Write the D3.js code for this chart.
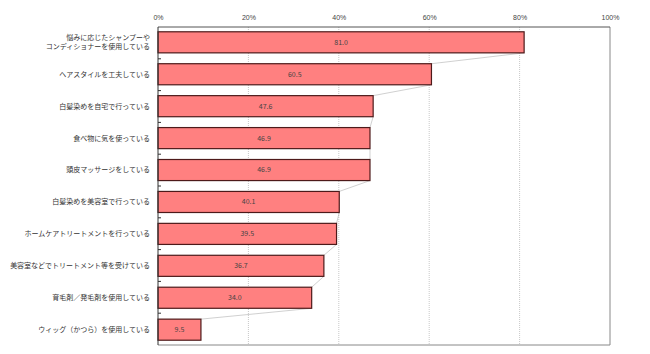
<!DOCTYPE html>
<html>
<head>
<meta charset="utf-8">
<script src="https://cdn.jsdelivr.net/npm/d3@7"></script>
<style>
  body { margin: 0; background: #fff; }
  svg { display: block; font-family: "Noto Sans CJK JP", sans-serif; }
</style>
</head>
<body>
<div id="chart"></div>
<script>
const categories = [
    ["悩みに応じたシャンプーや", "コンディショナーを使用している"],
    ["ヘアスタイルを工夫している"],
    ["白髪染めを自宅で行っている"],
    ["食べ物に気を使っている"],
    ["頭皮マッサージをしている"],
    ["白髪染めを美容室で行っている"],
    ["ホームケアトリートメントを行っている"],
    ["美容室などでトリートメント等を受けている"],
    ["育毛剤／発毛剤を使用している"],
    ["ウィッグ（かつら）を使用している"]
];
const values = [81.0, 60.5, 47.6, 46.9, 46.9, 40.1, 39.5, 36.7, 34.0, 9.5];
const tickValues = [0, 20, 40, 60, 80, 100];

const width = 650, height = 354;
const margin = { top: 27, right: 40, bottom: 9, left: 158 };

const svg = d3.select("#chart").append("svg")
    .attr("width", width)
    .attr("height", height);

const x = d3.scaleLinear()
    .domain([0, 100])
    .range([margin.left, width - margin.right]);

const y = d3.scaleBand()
    .domain(d3.range(values.length))
    .range([margin.top, height - margin.bottom])
    .paddingInner(0.34)
    .paddingOuter(0.15);

// grid lines
svg.selectAll(".grid")
    .data(tickValues.slice(1, -1))
    .enter()
    .append("line")
    .attr("x1", d => x(d))
    .attr("x2", d => x(d))
    .attr("y1", margin.top)
    .attr("y2", height - margin.bottom)
    .attr("stroke", "#c8c8c8")
    .attr("stroke-width", 1)
    .attr("stroke-dasharray", "1,1");

// frame
svg.append("line")
    .attr("x1", x(100)).attr("x2", x(100))
    .attr("y1", margin.top).attr("y2", height - margin.bottom)
    .attr("stroke", "#888");
svg.append("line")
    .attr("x1", x(0)).attr("x2", x(100))
    .attr("y1", height - margin.bottom).attr("y2", height - margin.bottom)
    .attr("stroke", "#888");
svg.append("line")
    .attr("x1", x(0)).attr("x2", x(100))
    .attr("y1", margin.top).attr("y2", margin.top)
    .attr("stroke", "#555");

// top axis
const xAxis = d3.axisTop(x)
    .tickValues(tickValues)
    .tickFormat(d => d + "%")
    .tickSize(0)
    .tickPadding(7);

svg.append("g")
    .attr("transform", `translate(0,${margin.top})`)
    .call(xAxis)
    .call(g => g.select(".domain").remove())
    .selectAll("text")
    .attr("font-size", 7)
    .attr("fill", "#444");

// series lines connecting bar ends
const links = values.slice(0, -1).map((v, i) => [v, values[i + 1], i]);
svg.selectAll(".series-line")
    .data(links)
    .enter()
    .append("line")
    .attr("x1", d => x(d[0]))
    .attr("y1", d => y(d[2]) + y.bandwidth())
    .attr("x2", d => x(d[1]))
    .attr("y2", d => y(d[2] + 1))
    .attr("stroke", "#b0b0b0")
    .attr("stroke-width", 0.6);

// bars
svg.selectAll(".bar")
    .data(values)
    .enter()
    .append("rect")
    .attr("x", x(0))
    .attr("y", (d, i) => y(i))
    .attr("width", d => x(d) - x(0))
    .attr("height", y.bandwidth())
    .attr("fill", "#ff8080")
    .attr("stroke", "#4d1a1a")
    .attr("stroke-width", 1.2);

// value labels
svg.selectAll(".value")
    .data(values)
    .enter()
    .append("text")
    .attr("x", d => (x(0) + x(d)) / 2)
    .attr("y", (d, i) => y(i) + y.bandwidth() / 2)
    .attr("dy", "0.35em")
    .attr("text-anchor", "middle")
    .attr("font-size", 7)
    .attr("fill", "#444")
    .text(d => d.toFixed(1));

// left axis line with ticks between bars
svg.append("line")
    .attr("x1", x(0)).attr("x2", x(0))
    .attr("y1", margin.top).attr("y2", height - margin.bottom)
    .attr("stroke", "#333");

const bandH = (height - margin.bottom - margin.top) / values.length;
svg.selectAll(".ltick")
    .data(d3.range(1, values.length))
    .enter()
    .append("line")
    .attr("x1", x(0))
    .attr("x2", x(0) + 3)
    .attr("y1", d => margin.top + d * bandH)
    .attr("y2", d => margin.top + d * bandH)
    .attr("stroke", "#333");

// category labels
const labels = svg.selectAll(".cat")
    .data(categories)
    .enter()
    .append("text")
    .attr("x", x(0) - 8)
    .attr("y", (d, i) => y(i) + y.bandwidth() / 2)
    .attr("text-anchor", "end")
    .attr("font-size", 7)
    .attr("fill", "#333");

labels.each(function(d) {
    const t = d3.select(this);
    const offset = (d.length - 1) * -0.65;
    d.forEach((line, j) => {
        t.append("tspan")
            .attr("x", x(0) - 8)
            .attr("dy", j === 0 ? (offset + 0.35) + "em" : "1.3em")
            .text(line);
    });
});
</script>
</body>
</html>
